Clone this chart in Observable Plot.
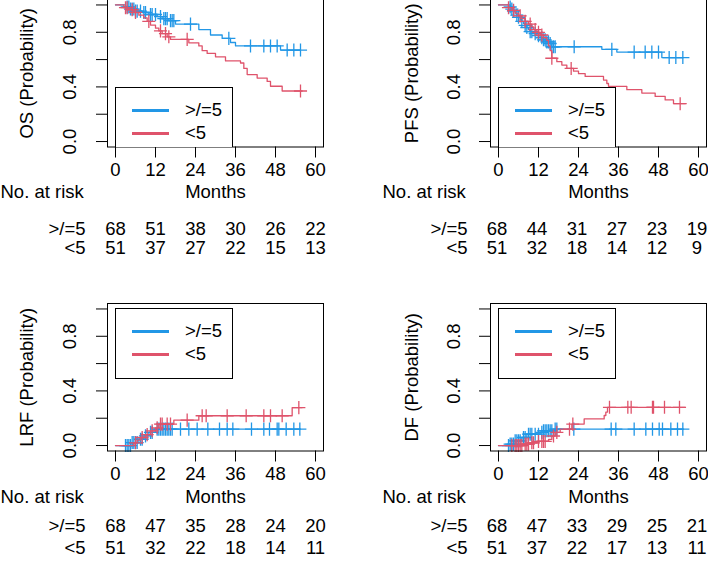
<!DOCTYPE html>
<html><head><meta charset="utf-8">
<script src="https://cdn.jsdelivr.net/npm/d3@7"></script>
<script src="https://cdn.jsdelivr.net/npm/@observablehq/plot@0.6"></script>
<style>
body{margin:0;background:#fff;}
#root{position:relative;width:708px;height:561px;overflow:hidden;background:#fff;font-family:"Liberation Sans",Arial,sans-serif;}
.panel{position:absolute;}
.legend{position:absolute;border:1px solid #000;background:#fff;box-sizing:border-box;}
.legend .ln{position:absolute;height:3px;}
.legend .tx{position:absolute;font-size:18.5px;line-height:20px;color:#000;white-space:nowrap;}
</style></head><body><div id="root"></div>
<script>
// ---------- shared ----------
const xTicks = [0, 12, 24, 36, 48, 60];
const yTicks = [0, 0.2, 0.4, 0.6, 0.8, 1.0];
const yLabels = [0, 0.4, 0.8];
const groups = [">/=5", "<5"];
const colHigh = "#2297E6", colLow = "#DF536B";

// ---------- OS ----------
const osHighT = [0, 3, 4.5, 6, 8, 10, 12.5, 14, 16, 18, 25, 28.5, 32, 34.5, 36, 49.5, 55.5];
const osHighS = [1, 0.985, 0.97, 0.955, 0.945, 0.93, 0.915, 0.90, 0.885, 0.86, 0.82, 0.78, 0.755, 0.725, 0.70, 0.67, 0.67];
const osHighC = [3.5, 4, 4.5, 5, 5.5, 6, 6.5, 7.5, 8.5, 9, 10.5, 11, 12, 13.5, 14.5, 15, 15.5, 16.5, 17, 17.5, 22.5, 34, 40.5, 44.5, 46.5, 48.5, 51.5, 53.5, 55.5];
const osLowT = [0, 2.5, 4, 5.5, 7, 8.5, 9.5, 10.5, 12, 13, 14, 15.5, 16.5, 22, 25, 26, 27.5, 30, 33, 37.5, 38.5, 39.5, 42.5, 45.5, 46.5, 50, 56];
const osLowS = [1, 0.98, 0.965, 0.945, 0.925, 0.905, 0.88, 0.853, 0.83, 0.81, 0.79, 0.767, 0.748, 0.723, 0.70, 0.665, 0.645, 0.62, 0.59, 0.575, 0.535, 0.49, 0.465, 0.44, 0.405, 0.37, 0.37];
const osLowC = [3, 3.5, 5, 6, 10, 13.5, 15, 16, 21.5, 55.5];
const osRiskHigh = [68, 51, 38, 30, 26, 22];
const osRiskLow = [51, 37, 27, 22, 15, 13];

// ---------- PFS ----------
const pfsHighT = [0, 3.5, 4, 4.5, 5, 5.5, 6, 6.5, 7, 7.5, 8, 8.5, 9, 9.5, 10.5, 11.5, 12.5, 13.5, 14.5, 15.5, 16, 31, 35.5, 49, 55.5];
const pfsHighS = [1, 0.985, 0.97, 0.955, 0.94, 0.925, 0.91, 0.895, 0.88, 0.865, 0.85, 0.835, 0.82, 0.805, 0.79, 0.775, 0.76, 0.745, 0.73, 0.718, 0.694, 0.675, 0.655, 0.615, 0.615];
const pfsHighC = [3.5, 4, 4.5, 5.5, 6, 7, 8, 8.5, 9.5, 10, 11, 12, 13, 13.5, 14, 14.5, 15, 15.5, 16, 16.5, 17, 22.7, 34, 40.7, 44, 46, 48, 51.2, 53.2, 55.3];
const pfsLowT = [0, 3, 4, 5, 6, 7, 8, 9, 10, 10.5, 11.5, 12.5, 13.5, 14.5, 15, 15.5, 16, 17.5, 19, 20.5, 22.5, 24, 26, 31.5, 32.5, 33, 38.5, 43, 47, 50, 52.5, 56];
const pfsLowS = [1, 0.98, 0.96, 0.94, 0.92, 0.90, 0.88, 0.86, 0.84, 0.82, 0.80, 0.78, 0.76, 0.74, 0.70, 0.665, 0.61, 0.585, 0.56, 0.535, 0.515, 0.497, 0.477, 0.45, 0.425, 0.404, 0.38, 0.355, 0.33, 0.305, 0.277, 0.277];
const pfsLowC = [3, 4.5, 6.5, 8, 9.5, 11, 12, 13, 16, 21.8, 54.5];
const pfsRiskHigh = [68, 44, 31, 27, 23, 19];
const pfsRiskLow = [51, 32, 18, 14, 12, 9];

// ---------- LRF ----------
const lrfHighT = [0, 5, 7, 8.5, 10, 12, 55.5];
const lrfHighS = [0, 0.022, 0.046, 0.071, 0.096, 0.12, 0.12];
const lrfHighC = [3, 3.5, 4, 4.5, 5, 5.5, 6, 6.5, 7.5, 8, 9, 10.5, 11, 12.5, 13, 13.5, 14, 14.5, 15, 15.5, 16, 16.5, 17, 19.5, 22, 24.5, 27.7, 31.2, 33.5, 35.2, 40.8, 44.5, 46.2, 48.5, 49, 51.2, 53.5, 55.3];
const lrfLowT = [0, 5.5, 6.5, 7.5, 9, 10.5, 12, 13, 17.5, 25, 53, 56];
const lrfLowS = [0, 0.02, 0.04, 0.059, 0.08, 0.108, 0.13, 0.157, 0.186, 0.218, 0.278, 0.278];
const lrfLowC = [6, 8, 9.5, 11, 12.5, 13.5, 14, 15.5, 16.5, 21.5, 26, 27.2, 33.5, 39.2, 44.5, 46.5, 50, 55];
const lrfRiskHigh = [68, 47, 35, 28, 24, 20];
const lrfRiskLow = [51, 32, 22, 18, 14, 11];

// ---------- DF ----------
const dfHighT = [0, 3.5, 5, 7, 8.5, 12.5, 13.5, 16.5, 55.3];
const dfHighS = [0, 0.01, 0.034, 0.059, 0.083, 0.096, 0.108, 0.12, 0.12];
const dfHighC = [3, 3.5, 4, 4.5, 5, 5.5, 6, 6.5, 7.5, 8, 9, 9.5, 10, 11, 12, 13, 13.5, 14, 14.5, 15, 15.5, 16, 17, 17.5, 22.6, 33.8, 35.2, 40.7, 44.2, 46.2, 48.2, 49.2, 51.7, 53.7, 55.3];
const dfLowT = [0, 7.5, 9.5, 11.5, 15, 16, 17, 18.5, 22, 25.7, 31.7, 32.2, 32.7, 56];
const dfLowS = [0, 0.01, 0.02, 0.03, 0.045, 0.07, 0.096, 0.12, 0.157, 0.195, 0.22, 0.245, 0.28, 0.28];
const dfLowC = [4, 5, 5.5, 6, 6.5, 7, 8, 8.5, 9, 10, 10.5, 12, 13, 13.5, 14, 16.5, 17.5, 21.3, 22.3, 33.3, 38.8, 39.8, 46.2, 46.5, 49.8, 54.3];
const dfRiskHigh = [68, 47, 33, 29, 25, 21];
const dfRiskLow = [51, 37, 22, 17, 13, 11];

const FS = 18.5;
const root = document.getElementById("root");

function stepAt(T, S, t) {
  let v = S[0];
  for (let i = 0; i < T.length; i++) if (T[i] <= t) v = S[i];
  return v;
}

function drawPanel(cfg) {
  const mt = 10, ph = 147.5;
  const H = cfg.height;
  const series = [
    {T: cfg.hT, S: cfg.hS, C: cfg.hC, color: colHigh},
    {T: cfg.lT, S: cfg.lS, C: cfg.lC, color: colLow}
  ];
  const marks = [];
  for (const s of series) {
    marks.push(Plot.line(s.T.map((t, i) => ({t, s: s.S[i]})), {x: "t", y: "s", curve: "step-after", stroke: s.color, strokeWidth: 1.3}));
    marks.push(Plot.dot(s.C.map(t => ({t, s: stepAt(s.T, s.S, t)})), {x: "t", y: "s", symbol: "plus", r: 4.3, stroke: s.color, strokeWidth: 1.3}));
  }
  const T = {fontSize: FS, lineAnchor: "middle"};
  marks.push(
    Plot.frame({stroke: "black", strokeWidth: 1}),
    Plot.axisX({ticks: xTicks, tickSize: 11, tickPadding: 5, fontSize: FS, label: null, stroke: "black"}),
    Plot.axisY({ticks: yTicks, tickSize: 11, tickFormat: () => "", label: null, stroke: "black"}),
    Plot.text(yLabels, {...T, y: d => d, text: d => d.toFixed(1), frameAnchor: "left", textAnchor: "middle", rotate: -90, dx: cfg.yTickDx}),
    Plot.text([cfg.ylabel], {...T, frameAnchor: "left", textAnchor: "middle", rotate: -90, dx: cfg.yLabelDx}),
    Plot.text(["Months"], {...T, frameAnchor: "bottom", textAnchor: "middle", dy: cfg.dyMonths}),
    Plot.text(["No. at risk"], {...T, frameAnchor: "bottom-left", textAnchor: "start", dx: cfg.noRiskDx, dy: cfg.dyMonths}),
    Plot.text([groups[0]], {...T, frameAnchor: "bottom-left", textAnchor: "end", dx: cfg.grpDx, dy: cfg.dyRow1}),
    Plot.text([groups[1]], {...T, frameAnchor: "bottom-left", textAnchor: "end", dx: cfg.grpDx, dy: cfg.dyRow2}),
    Plot.text(xTicks, {...T, x: d => d, text: (d, i) => String(cfg.rH[i]), frameAnchor: "bottom", textAnchor: "middle", dx: cfg.numDx, dy: cfg.dyRow1}),
    Plot.text(xTicks, {...T, x: d => d, text: (d, i) => String(cfg.rL[i]), frameAnchor: "bottom", textAnchor: "middle", dx: cfg.numDx, dy: cfg.dyRow2})
  );
  const svg = Plot.plot({
    width: 354, height: H,
    marginTop: mt, marginBottom: H - mt - ph,
    marginLeft: cfg.ml, marginRight: 354 - cfg.ml - 216,
    x: {domain: [-2.4, 62.4], label: null},
    y: {domain: [-0.04, 1.04], label: null},
    style: {fontFamily: "'Liberation Sans', Arial, sans-serif", fontSize: FS + "px", color: "black", background: "transparent", overflow: "visible"},
    marks
  });
  const wrap = document.createElement("div");
  wrap.className = "panel";
  wrap.style.left = cfg.left + "px";
  wrap.style.top = cfg.top + "px";
  wrap.appendChild(svg);
  root.appendChild(wrap);
}

function drawLegend(x, y, w, h, noBottom) {
  const d = document.createElement("div");
  d.className = "legend";
  d.style.left = x + "px"; d.style.top = y + "px";
  d.style.width = w + "px"; d.style.height = h + "px";
  if (noBottom) d.style.borderBottom = "none";
  const items = [[groups[0], colHigh, 23], [groups[1], colLow, 46]];
  for (const [lab, col, cy] of items) {
    const l = document.createElement("div");
    l.className = "ln"; l.style.background = col;
    l.style.left = "16px"; l.style.width = "37px"; l.style.top = (cy - 2.5) + "px";
    d.appendChild(l);
    const t = document.createElement("div");
    t.className = "tx"; t.textContent = lab;
    t.style.left = "69px"; t.style.top = (cy - 11) + "px";
    d.appendChild(t);
  }
  root.appendChild(d);
}

const topRow = {top: -11, height: 300, dyMonths: 45.5, dyRow1: 82.5, dyRow2: 101.5};
const botRow = {top: 293, height: 268, dyMonths: 46.5, dyRow1: 75.5, dyRow2: 97.5};
const leftCol = {left: 0, ml: 107, yTickDx: -37, yLabelDx: -80, noRiskDx: -107, grpDx: -22, numDx: 0};
const rightCol = {left: 354, ml: 136, yTickDx: -36, yLabelDx: -78, noRiskDx: -108, grpDx: -23, numDx: -1.5};

drawPanel({...topRow, ...leftCol, ylabel: "OS (Probability)", hT: osHighT, hS: osHighS, hC: osHighC, lT: osLowT, lS: osLowS, lC: osLowC, rH: osRiskHigh, rL: osRiskLow});
drawPanel({...topRow, ...rightCol, ylabel: "PFS (Probability)", hT: pfsHighT, hS: pfsHighS, hC: pfsHighC, lT: pfsLowT, lS: pfsLowS, lC: pfsLowC, rH: pfsRiskHigh, rL: pfsRiskLow});
drawPanel({...botRow, ...leftCol, ylabel: "LRF (Probability)", hT: lrfHighT, hS: lrfHighS, hC: lrfHighC, lT: lrfLowT, lS: lrfLowS, lC: lrfLowC, rH: lrfRiskHigh, rL: lrfRiskLow});
drawPanel({...botRow, ...rightCol, ylabel: "DF (Probability)", hT: dfHighT, hS: dfHighS, hC: dfHighC, lT: dfLowT, lS: dfLowS, lC: dfLowC, rH: dfRiskHigh, rL: dfRiskLow});

drawLegend(115, 87, 118, 60, true);
drawLegend(498, 87, 118, 60, true);
drawLegend(115, 308, 118, 71, false);
drawLegend(498, 308, 118, 71, false);
</script>
</body></html>
